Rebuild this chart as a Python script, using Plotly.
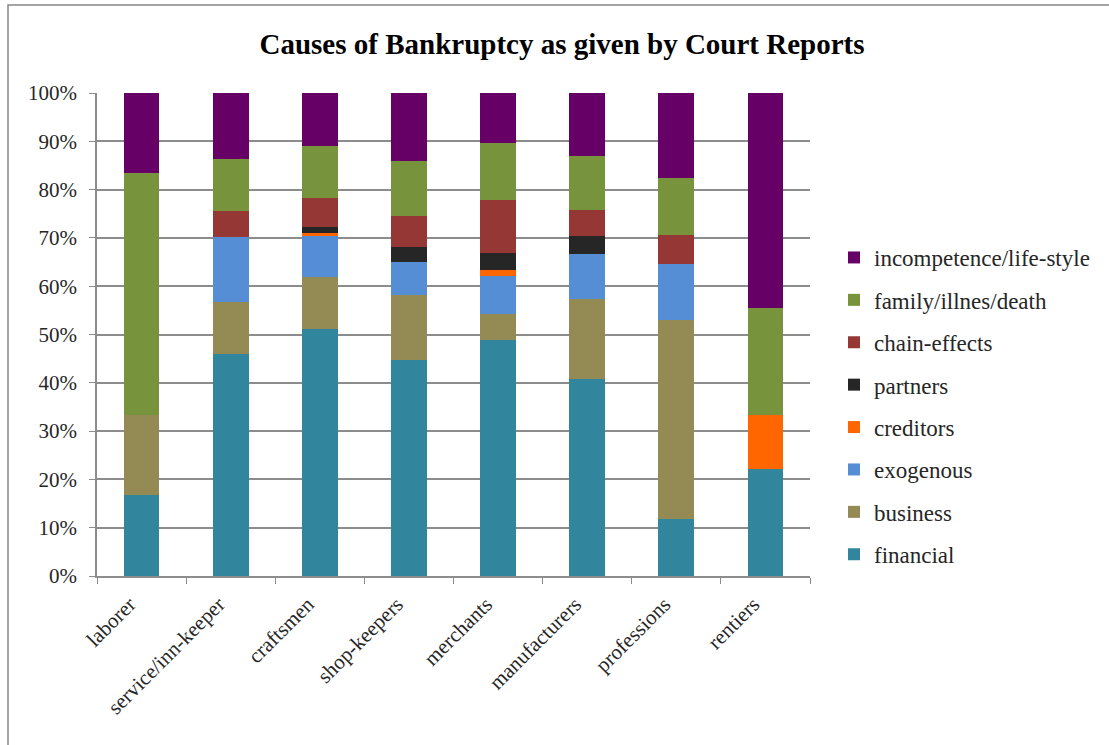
import plotly.graph_objects as go

# Occupational groups of the bankrupts
categories = ["laborer", "service/inn-keeper", "craftsmen", "shop-keepers",
              "merchants", "manufacturers", "professions", "rentiers"]

# Share of each cause per group, in percent (bottom to top of the stack)
financial = [16.7, 45.9, 51.2, 44.8, 48.8, 40.7, 11.8, 22.2]
business = [16.7, 10.8, 10.8, 13.3, 5.5, 16.6, 41.1, 0.0]
exogenous = [0.0, 13.5, 8.3, 7.0, 7.8, 9.3, 11.8, 0.0]
creditors = [0.0, 0.0, 0.7, 0.0, 1.3, 0.0, 0.0, 11.1]
partners = [0.0, 0.0, 1.2, 3.1, 3.5, 3.7, 0.0, 0.0]
chain_effects = [0.0, 5.4, 6.1, 6.3, 11.0, 5.5, 5.9, 0.0]
family_illness_death = [50.0, 10.8, 10.8, 11.4, 11.7, 11.2, 11.8, 22.2]
incompetence = [16.6, 13.6, 10.9, 14.1, 10.4, 13.0, 17.6, 44.5]

series = [
    ("financial", financial, "#31859C"),
    ("business", business, "#948A54"),
    ("exogenous", exogenous, "#558ED5"),
    ("creditors", creditors, "#FF6600"),
    ("partners", partners, "#262626"),
    ("chain-effects", chain_effects, "#953735"),
    ("family/illnes/death", family_illness_death, "#77933C"),
    ("incompetence/life-style", incompetence, "#660066"),
]

W, H = 1109, 745
ML, MR, MT, MB = 97, 299, 93, 169
FONT = "Liberation Serif"

fig = go.Figure()
n = len(series)
for i, (name, vals, color) in enumerate(series):
    fig.add_trace(go.Bar(
        x=categories, y=vals, name=name, legendgroup=f"g{i}",
        legendrank=n - i,  # legend lists the top of the stack first
        marker=dict(color=color, line=dict(width=0)),
    ))

# outer frame of the chart area, expressed in paper coordinates
pw, ph = W - ML - MR, H - MT - MB
def px(x):
    return (x - ML) / pw
def py(y):
    return (H - MB - y) / ph

fig.add_shape(type="rect", xref="paper", yref="paper",
              x0=px(8), x1=px(W + 20), y0=py(H + 20), y1=py(5),
              line=dict(color="#868686", width=1.5), layer="below")

fig.update_layout(
    width=W, height=H,
    margin=dict(l=ML, r=MR, t=MT, b=MB),
    barmode="stack", barnorm="percent", bargap=0.6,
    plot_bgcolor="white", paper_bgcolor="white",
    font=dict(family=FONT, size=21, color="#262626"),
    title=dict(text="<b>Causes of Bankruptcy as given by Court Reports</b>",
               x=px(562), xref="paper", xanchor="center",
               y=1 - 44 / H, yanchor="middle",
               font=dict(family=FONT, size=29, color="black")),
    legend=dict(traceorder="grouped", x=px(834), xanchor="left",
                y=py(236), yanchor="top", tracegroupgap=9.5,
                font=dict(family=FONT, size=23, color="#262626"),
                itemwidth=30),
    showlegend=True,
)
fig.update_yaxes(range=[0, 100], dtick=10, ticksuffix="%",
                 showgrid=True, gridcolor="#8C8C8C", gridwidth=1.5,
                 showline=True, linecolor="#8C8C8C", linewidth=1.5,
                 ticks="outside", ticklen=6, tickcolor="#8C8C8C",
                 ticklabelstandoff=8,
                 tickfont=dict(family=FONT, size=21, color="#262626"),
                 zeroline=False)
fig.update_xaxes(showline=True, linecolor="#8C8C8C", linewidth=1.5,
                 ticks="outside", ticklen=6, tickcolor="#8C8C8C",
                 tickson="boundaries", tickangle=-45,
                 ticklabelshift=-12, ticklabelstandoff=6,
                 tickfont=dict(family=FONT, size=21, color="#262626"))

fig.write_html("out.html")
